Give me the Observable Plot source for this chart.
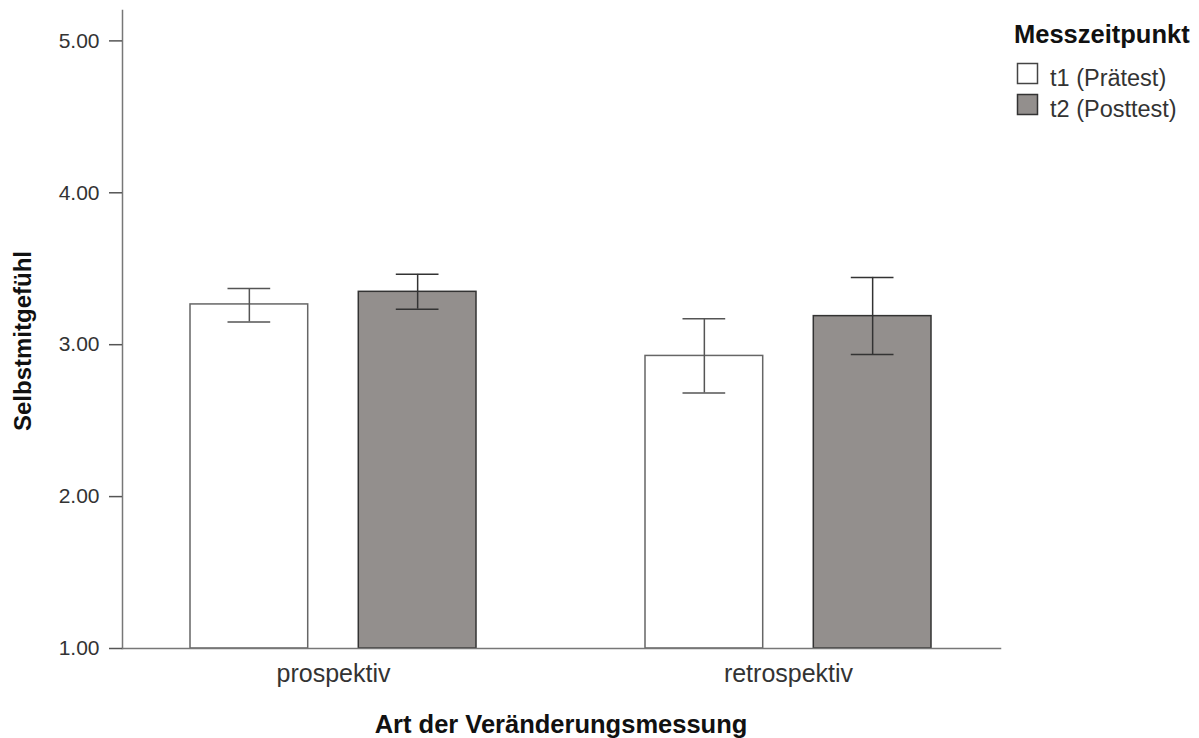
<!DOCTYPE html>
<html>
<head>
<meta charset="utf-8">
<script src="https://cdn.jsdelivr.net/npm/d3@7"></script>
<script src="https://cdn.jsdelivr.net/npm/@observablehq/plot@0.6"></script>
<style>
  html, body { margin: 0; padding: 0; background: #fff; }
  #wrap { position: relative; width: 1199px; height: 738px; overflow: hidden; }
  #wrap > svg { position: absolute; left: 0; top: 0; }
</style>
</head>
<body>
<div id="wrap"></div>
<script>
// ---- data ----
const groups = ["prospektiv", "retrospektiv"];
const seriesLabels = ["t1 (Prätest)", "t2 (Posttest)"];
const t1Mean = [3.265, 2.926];
const t1Low  = [3.150, 2.682];
const t1High = [3.370, 3.170];
const t2Mean = [3.348, 3.188];
const t2Low  = [3.234, 2.935];
const t2High = [3.463, 3.443];
const yTicks = [1, 2, 3, 4, 5];
const xTitle = "Art der Veränderungsmessung";
const yTitle = "Selbstmitgefühl";
const legendTitle = "Messzeitpunkt";

const t1 = groups.map((g, i) => ({group: g, mean: t1Mean[i], low: t1Low[i], high: t1High[i]}));
const t2 = groups.map((g, i) => ({group: g, mean: t2Mean[i], low: t2Low[i], high: t2High[i]}));

// ---- layout ----
const W = 1199, H = 738;
const mL = 122, mR = 199, mT = 10, mB = 90;
const pInner = 0.371, pOuter = 0.15;
const step = (W - mL - mR) / (groups.length - pInner + 2 * pOuter);
const bandW = step * (1 - pInner);
const barW = 118, capW = 43;
const off = (bandW - barW) / 2;
const capIn = (barW - capW) / 2;

const fillT1 = "#ffffff", fillT2 = "#938f8d";
const strokeT1 = "#666666", strokeT2 = "#333333";

const plot = Plot.plot({
  width: W, height: H,
  marginLeft: mL, marginRight: mR, marginTop: mT, marginBottom: mB,
  style: {fontFamily: "'Liberation Sans', Arial, sans-serif", fontSize: "21px", color: "#333", background: "transparent"},
  x: {type: "band", domain: groups, paddingInner: pInner, paddingOuter: pOuter, label: null},
  y: {domain: [1, 5.2], label: null},
  marks: [
    Plot.barY(t1, {x: "group", y1: 1, y2: "mean", fill: fillT1, stroke: strokeT1, strokeWidth: 1.5, insetLeft: 0, insetRight: bandW - barW}),
    Plot.barY(t2, {x: "group", y1: 1, y2: "mean", fill: fillT2, stroke: strokeT2, strokeWidth: 1.5, insetLeft: bandW - barW, insetRight: 0}),
    Plot.ruleX(t1, {x: "group", y1: "low", y2: "high", dx: -off, stroke: "#555", strokeWidth: 1.5}),
    Plot.tickY(t1, {x: "group", y: "high", insetLeft: capIn, insetRight: bandW - barW + capIn, stroke: "#555", strokeWidth: 1.5}),
    Plot.tickY(t1, {x: "group", y: "low", insetLeft: capIn, insetRight: bandW - barW + capIn, stroke: "#555", strokeWidth: 1.5}),
    Plot.ruleX(t2, {x: "group", y1: "low", y2: "high", dx: off, stroke: "#333", strokeWidth: 1.5}),
    Plot.tickY(t2, {x: "group", y: "high", insetLeft: bandW - barW + capIn, insetRight: capIn, stroke: "#333", strokeWidth: 1.5}),
    Plot.tickY(t2, {x: "group", y: "low", insetLeft: bandW - barW + capIn, insetRight: capIn, stroke: "#333", strokeWidth: 1.5}),
    Plot.frame({anchor: "left", stroke: "#777", strokeWidth: 1.5}),
    Plot.frame({anchor: "bottom", stroke: "#777", strokeWidth: 1.5}),
    Plot.axisY({ticks: yTicks, tickFormat: d3.format(".2f"), tickSize: 13, tickPadding: 10, stroke: "#555", strokeWidth: 1.5, fill: "#333", fontSize: 21, label: null}),
    Plot.axisX({tickSize: 0, tickPadding: 16, fill: "#333", fontSize: 25, label: null})
  ]
});
document.getElementById("wrap").appendChild(plot);

// ---- titles and legend overlay ----
const ns = "http://www.w3.org/2000/svg";
const ov = d3.select("#wrap").append("svg")
  .attr("width", W).attr("height", H)
  .style("font-family", "'Liberation Sans', Arial, sans-serif");

ov.append("text").text(xTitle)
  .attr("x", (mL + W - mR) / 2).attr("y", 733)
  .attr("text-anchor", "middle").attr("font-weight", "bold").attr("font-size", 25.5).attr("fill", "#111");

ov.append("text").text(yTitle)
  .attr("transform", "translate(31,341) rotate(-90)")
  .attr("text-anchor", "middle").attr("font-weight", "bold").attr("font-size", 24).attr("fill", "#111");

ov.append("text").text(legendTitle)
  .attr("x", 1014).attr("y", 43)
  .attr("font-weight", "bold").attr("font-size", 25.5).attr("fill", "#111");

const legendFills = [fillT1, fillT2];
const legendStrokes = ["#444", "#333"];
seriesLabels.forEach((lab, i) => {
  const y0 = 63 + i * 31;
  ov.append("rect").attr("x", 1017.5).attr("y", y0 + 0.5).attr("width", 20).attr("height", 20)
    .attr("fill", legendFills[i]).attr("stroke", legendStrokes[i]).attr("stroke-width", 1.5);
  ov.append("text").text(lab).attr("x", 1050).attr("y", y0 + 23)
    .attr("font-size", 23.5).attr("fill", "#333");
});
</script>
</body>
</html>
